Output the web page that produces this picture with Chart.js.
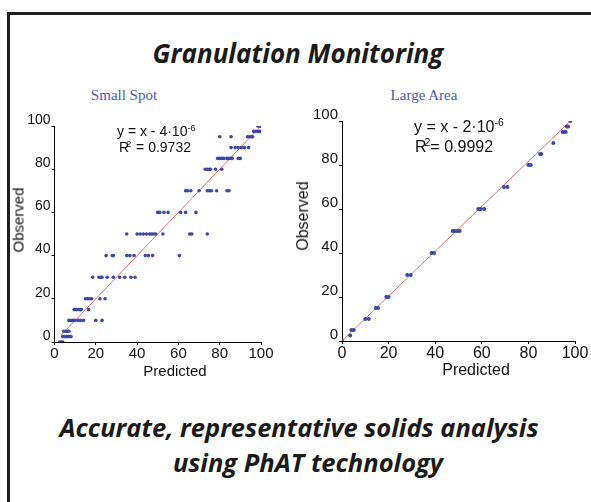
<!DOCTYPE html>
<html><head><meta charset="utf-8">
<script src="https://cdn.jsdelivr.net/npm/chart.js@4.4.1/dist/chart.umd.min.js"></script>
<style>
html,body{margin:0;padding:0;background:#fff;}
body{width:591px;height:502px;position:relative;overflow:hidden;font-family:"Liberation Sans",Arial,sans-serif;}
.frame{position:absolute;left:7px;top:12px;width:620px;height:520px;border-left:3px solid #1e1e1e;border-top:3px solid #1e1e1e;box-sizing:border-box;}
.t{position:absolute;white-space:nowrap;color:#1a1a1a;transform:translate(-50%,-50%);line-height:1;}
.big{font-family:"Open Sans","Noto Sans",sans-serif;font-weight:700;font-style:italic;}
.sub{font-family:"Liberation Serif","Times New Roman",serif;color:#4a5ab0;}
.eq{position:absolute;white-space:nowrap;color:#111;line-height:1;}
.eq sup{font-size:65%;vertical-align:0;position:relative;top:-0.55em;}
.ax{font-family:"Liberation Sans",Arial,sans-serif;color:#111;}
canvas{position:absolute;}
</style>
</head><body>
<div class="frame"></div>
<div class="t big" id="title" style="left:298px;top:53px;font-size:26px;">Granulation Monitoring</div>
<div class="t sub" style="left:124px;top:95px;font-size:15px;">Small Spot</div>
<div class="t sub" style="left:424px;top:95px;font-size:15px;">Large Area</div>

<canvas id="c1" width="290" height="280" style="left:0;top:100px;"></canvas>
<canvas id="c2" width="301" height="280" style="left:290px;top:100px;"></canvas>

<div class="eq" style="left:117px;top:124px;font-size:14px;">y = x - 4·10<sup>-6</sup></div>
<div class="eq" style="left:119px;top:140px;font-size:14px;">R<sup style="margin-left:-3px;margin-right:1px">2</sup> = 0.9732</div>
<div class="eq" style="left:414px;top:119px;font-size:16px;">y = x - 2·10<sup>-6</sup></div>
<div class="eq" style="left:415px;top:139px;font-size:16px;">R<sup style="margin-left:-2px">2</sup>= 0.9992</div>

<div class="t ax" style="left:18px;top:220px;font-size:15px;transform:translate(-50%,-50%) rotate(-90deg);">Observed</div>
<div class="t ax" style="left:303px;top:216px;font-size:16px;transform:translate(-50%,-50%) rotate(-90deg);">Observed</div>
<div class="t ax" style="left:175px;top:370px;font-size:15px;">Predicted</div>
<div class="t ax" style="left:476px;top:370px;font-size:16px;">Predicted</div>

<div class="t big" style="left:299px;top:428px;font-size:25.5px;">Accurate, representative solids analysis</div>
<div class="t big" style="left:308px;top:463px;font-size:25.5px;">using PhAT technology</div>

<script>
// ---- Small Spot data (Predicted vs Observed) ----
const smallSpotPredicted = [
  98.5,99,99.5,100,
  96.5,97.5,98.5,99.5,
  80,85.5,93.5,94.5,95.5,96,
  85.5,87.5,89,90.5,92,94,
  79,80,81,82,83.5,84.5,85.5,86,89,90,
  73,74,75,75.5,78,81,
  63.5,64.5,66,70,74,75,76,78.5,83.5,84.5,
  50,51,53,55,61,63.5,68.5,
  35,40,41.5,43,44.5,46,47,48,49,52.5,65.5,66.5,74,
  25,28,28.5,35,36.5,38.5,44,45.5,47.5,60.5,
  18.5,21.5,22.5,23,25.5,28.5,31.5,34,37,39,
  15,16,17,18,22,24.5,
  9.5,10.5,11.5,12.5,13,16.5,
  7,8,9,10,11.5,12.5,14,20,23,
  4.5,5.5,6.5,7,
  4,5,6,7,8,
  2.5,3.5,4
];
const smallSpotObserved = [
  100,100,100,100,
  97.5,97.5,97.5,97.5,
  95,95,95,95,95,95,
  90,90,90,90,90,90,
  85,85,85,85,85,85,85,85,85,85,
  80,80,80,80,80,80,
  70,70,70,70,70,70,70,70,70,70,
  60,60,60,60,60,60,60,
  50,50,50,50,50,50,50,50,50,50,50,50,50,
  40,40,40,40,40,40,40,40,40,40,
  30,30,30,30,30,30,30,30,30,30,
  20,20,20,20,20,20,
  15,15,15,15,15,15,
  10,10,10,10,10,10,10,10,10,
  5,5,5,5,
  2.5,2.5,2.5,2.5,2.5,
  0,0,0
];
const smallSpotFitX = [3, 100];
const smallSpotFitY = [3, 100];

// ---- Large Area data ----
const largeAreaPredicted = [0,3.5,4,5,10,11.5,14.5,15.5,19,20,28,29.5,38.5,39.5,47.5,48.5,49.5,50.5,58.5,59.5,61,69.5,71,80,81,85,85.5,90.7,94.7,95.5,96,96.5,97,98];
const largeAreaObserved  = [0,2.5,5,5,10,10,15,15,20,20,30,30,40,40,50,50,50,50,60,60,60,70,70,80,80,85,85,90,95,95,95,97.5,97.5,100];
const largeAreaFitX = [0, 98];
const largeAreaFitY = [0, 100];

const tickValues = [0,20,40,60,80,100];

const pts = (xs, ys) => xs.map((x,i)=>({x:x, y:ys[i]}));
const blue = 'rgb(58,72,168)';
const red = 'rgb(240,110,110)';

function makeChart(id, scatterX, scatterY, fitX, fitY, geo) {
  new Chart(document.getElementById(id), {
    data: {
      datasets: [
        {type:'line', data: pts(fitX, fitY), borderColor: red, borderWidth: 1, pointRadius: 0, fill:false, order: 2},
        {type:'scatter', data: pts(scatterX, scatterY), backgroundColor: blue, borderColor: blue, pointRadius: geo.r, pointBorderWidth: 0, order: 1}
      ]
    },
    options: {
      responsive: false, animation: false, devicePixelRatio: 1,
      layout: {padding: geo.pad},
      plugins: {legend: {display: false}, tooltip: {enabled: false}},
      scales: {
        x: {
          type: 'linear', min: 0, max: 100,
          afterBuildTicks: s => { s.ticks = tickValues.map(v => ({value: v})); },
          ticks: {color: '#111', font: {family: 'Liberation Sans', size: geo.xfs}, padding: 0, maxRotation: 0, autoSkip: false},
          grid: {drawOnChartArea: false, tickLength: 3, color: '#000'},
          border: {color: '#000', width: 1},
          afterFit: s => { s.height = geo.xh; }
        },
        y: {
          type: 'linear', min: 0, max: 100,
          afterBuildTicks: s => { s.ticks = tickValues.map(v => ({value: v})); },
          ticks: {color: '#111', font: {family: 'Liberation Sans', size: geo.yfs}, padding: 1, labelOffset: -6, autoSkip: false},
          grid: {drawOnChartArea: false, tickLength: 3, color: '#000'},
          border: {color: '#000', width: 1},
          afterFit: s => { s.width = geo.yw; }
        }
      }
    }
  });
}

makeChart('c1', smallSpotPredicted, smallSpotObserved, smallSpotFitX, smallSpotFitY,
  {pad: {left: 14, right: 29, top: 26, bottom: 0}, yw: 40.5, xh: 38, xfs: 15, yfs: 14, r: 1.8});
makeChart('c2', largeAreaPredicted, largeAreaObserved, largeAreaFitX, largeAreaFitY,
  {pad: {left: 12, right: 16, top: 21, bottom: 0}, yw: 40, xh: 39, xfs: 16, yfs: 15, r: 2});
</script>
</body></html>
